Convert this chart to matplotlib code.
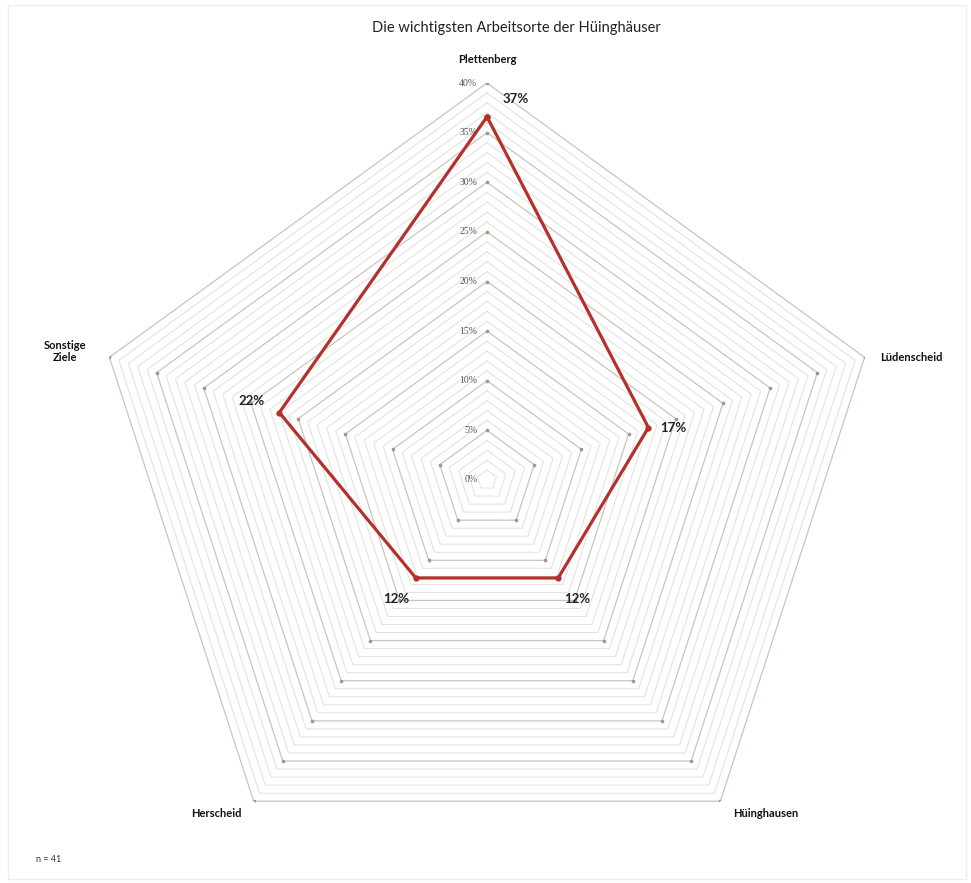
import numpy as np
import matplotlib.pyplot as plt
from matplotlib.patches import Rectangle

plt.rcParams['font.family'] = ['Lato', 'DejaVu Sans']

# data (share of n = 41)
categories = ["Plettenberg", "Lüdenscheid", "Hüinghausen", "Herscheid", "Sonstige\nZiele"]
values = [36.6, 17.1, 12.2, 12.2, 22.0]
value_labels = ["37%", "17%", "12%", "12%", "22%"]
tick_values = [0, 5, 10, 15, 20, 25, 30, 35, 40]
tick_labels = ["0%", "5%", "10%", "15%", "20%", "25%", "30%", "35%", "40%"]
title = "Die wichtigsten Arbeitsorte der Hüinghäuser"
note = "n = 41"

red = "#b5302b"
major_col = "#ccc4bb"
minor_col = "#e2dfdc"

fig = plt.figure(figsize=(9.71, 8.83), dpi=100)
ax = fig.add_axes([90 / 971, 6 / 883, 794 / 971, 794 / 883], projection="polar")
ax.set_theta_zero_location("N")
ax.set_theta_direction(-1)
ax.set_ylim(0, 40)
ax.grid(False)
ax.spines["polar"].set_visible(False)
ax.set_xticks([])
ax.set_yticks([])
ax.patch.set_alpha(0)

n = len(categories)
theta = np.arange(n) * 2 * np.pi / n
theta_closed = np.append(theta, theta[0])

# pentagon grid, every 1 %, darker every 5 %
for lvl in range(1, 41):
    major = lvl % 5 == 0
    ax.plot(theta_closed, [lvl] * (n + 1),
            color=major_col if major else minor_col,
            lw=0.9 if major else 0.7, zorder=1)
    if major:
        ax.plot(theta, [lvl] * n, ls="none", marker="o", ms=1.6,
                color="#a0968d", zorder=2)

for v, lab in zip(tick_values, tick_labels):
    ax.annotate(lab, xy=(0, v), xytext=(-7, 0), textcoords="offset points",
                ha="right", va="center", fontsize=7, color="#555555",
                family=["Liberation Serif", "DejaVu Serif"])

# data line
vals_closed = values + values[:1]
ax.plot(theta_closed, vals_closed, color=red, lw=2.3, zorder=5,
        marker="o", ms=3.5, solid_joinstyle="miter")

# value labels
val_offsets = [(21, 13), (18, 0), (14, -15), (-14, -15), (-20, 8)]
for t, v, lab, off in zip(theta, values, value_labels, val_offsets):
    ax.annotate(lab, xy=(t, v), xytext=off, textcoords="offset points",
                ha="center", va="center", fontsize=9.5, fontweight="bold",
                color="#222222", zorder=6)

# category labels
cat_offsets = [(0, 17), (34, 0), (33, -9), (-27, -9), (-32, 4)]
for t, lab, off in zip(theta, categories, cat_offsets):
    ax.annotate(lab, xy=(t, 40), xytext=off, textcoords="offset points",
                ha="center", va="center", fontsize=8, fontweight="bold",
                color="#111111", linespacing=1.1)

fig.text(516 / 971, 1 - 28 / 883, title, ha="center", va="center",
         fontsize=10.5, color="#222222")
fig.text(36 / 971, 1 - 860 / 883, note, ha="left", va="center",
         fontsize=6.5, color="#333333")

fig.patches.append(Rectangle((8 / 971, 4 / 883), 958 / 971, 874 / 883,
                             transform=fig.transFigure, fill=False,
                             edgecolor="#eeeeee", lw=1))

fig.savefig("out.png", dpi=100)
